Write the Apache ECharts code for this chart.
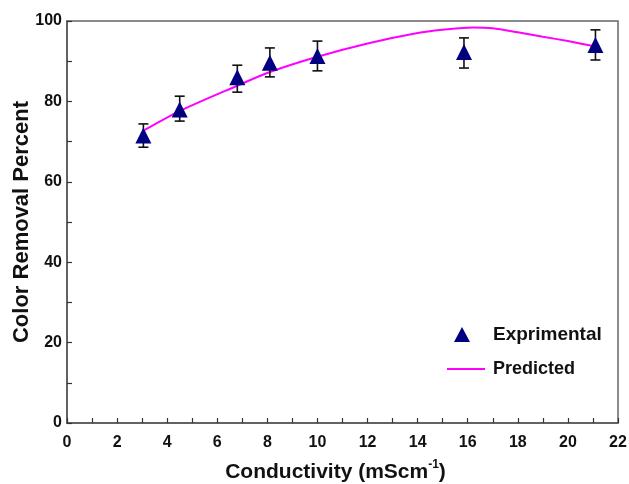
<!DOCTYPE html>
<html>
<head>
<meta charset="utf-8">
<script src="https://cdn.jsdelivr.net/npm/echarts@6/dist/echarts.min.js"></script>
<style>
  html, body { margin: 0; padding: 0; background: #fff; }
  #chart { width: 629px; height: 484px; }
</style>
</head>
<body>
<div id="chart"></div>
<script>
// measured points
const expX = [3.05, 4.5, 6.8, 8.1, 10, 15.85, 21.1];
const expY = [71.5, 78, 86, 89.6, 91.3, 92.3, 94];
const errLow = [68.6, 75.1, 82.3, 86.1, 87.6, 88.3, 90.3];
const errHigh = [74.4, 81.3, 89.0, 93.3, 95.0, 95.8, 97.8];

// model curve
const predX = [3.1, 4.5, 6.8, 8.1, 10, 12, 14, 15, 16.2, 17, 18, 19, 20, 21];
const predY = [72.9, 77.6, 83.9, 87.3, 91.1, 94.4, 97.0, 97.8, 98.4, 98.2, 97.2, 96.1, 95.0, 93.8];

const font = "'Liberation Sans', Arial, sans-serif";

let myChart = echarts.init(document.getElementById("chart"));
myChart.setOption({
  animation: false,
  grid: {
    left: 67,
    right: 11,
    top: 21,
    bottom: 61,
    outerBoundsMode: "none",
    show: true,
    borderColor: "#666",
    borderWidth: 1.5
  },
  legend: [
    {
      data: [{ name: "Exprimental", icon: "triangle" }],
      left: 449,
      top: 320,
      itemWidth: 16,
      itemHeight: 15,
      textStyle: { fontFamily: font, fontWeight: "bold", fontSize: 19, color: "#111", padding: [0, 0, 6, 18] }
    },
    {
      data: [{ name: "Predicted", icon: "rect" }],
      left: 442,
      top: 355,
      itemWidth: 38,
      itemHeight: 2,
      textStyle: { fontFamily: font, fontWeight: "bold", fontSize: 18, color: "#111", padding: [0, 0, 6, 3] }
    }
  ],
  xAxis: {
    type: "value",
    min: 0,
    max: 22,
    interval: 2,
    name: "Conductivity (mScm{sup|-1})",
    nameLocation: "middle",
    nameGap: 36,
    nameTextStyle: {
      fontFamily: font,
      fontWeight: "bold",
      fontSize: 21,
      color: "#111",
      padding: [0, 14, 0, 0],
      rich: {
        sup: { fontFamily: font, fontWeight: "bold", fontSize: 12, color: "#111", verticalAlign: "top", lineHeight: 26 }
      }
    },
    axisLine: { lineStyle: { color: "#555", width: 1.5 } },
    axisTick: { inside: true, length: 5, lineStyle: { color: "#333", width: 1.2 } },
    minorTick: { show: true, splitNumber: 2, length: 5, lineStyle: { color: "#333", width: 1.2 } },
    axisLabel: { fontFamily: font, fontWeight: "bold", fontSize: 16, color: "#111", margin: 12 },
    splitLine: { show: false }
  },
  yAxis: {
    type: "value",
    min: 0,
    max: 100,
    interval: 20,
    name: "Color Removal Percent",
    nameLocation: "middle",
    nameGap: 34,
    nameMoveOverlap: false,
    nameTextStyle: { fontFamily: font, fontWeight: "bold", fontSize: 22, color: "#111" },
    axisLine: { show: true, lineStyle: { color: "#555", width: 1.5 } },
    axisTick: { show: true, inside: true, length: 5, lineStyle: { color: "#333", width: 1.2 } },
    minorTick: { show: true, splitNumber: 2, length: 5, lineStyle: { color: "#333", width: 1.2 } },
    axisLabel: { fontFamily: font, fontWeight: "bold", fontSize: 16, color: "#111", margin: 5 },
    splitLine: { show: false }
  },
  series: [
    {
      name: "Predicted",
      type: "line",
      smooth: 0.3,
      symbol: "none",
      lineStyle: { color: "#ff00ff", width: 2 },
      itemStyle: { color: "#ff00ff" },
      data: predX.map((x, i) => [x, predY[i]]),
      z: 2
    },
    {
      name: "errorbars",
      type: "custom",
      data: expX.map((x, i) => [x, errLow[i], errHigh[i]]),
      renderItem: function (params, api) {
        const lo = api.coord([api.value(0), api.value(1)]);
        const hi = api.coord([api.value(0), api.value(2)]);
        const cap = 5;
        const style = { stroke: "#111", lineWidth: 1.6 };
        return {
          type: "group",
          children: [
            { type: "line", shape: { x1: lo[0], y1: lo[1], x2: hi[0], y2: hi[1] }, style: style },
            { type: "line", shape: { x1: lo[0] - cap, y1: lo[1], x2: lo[0] + cap, y2: lo[1] }, style: style },
            { type: "line", shape: { x1: hi[0] - cap, y1: hi[1], x2: hi[0] + cap, y2: hi[1] }, style: style }
          ]
        };
      },
      z: 3
    },
    {
      name: "Exprimental",
      type: "scatter",
      symbol: "triangle",
      symbolSize: [16, 16],
      itemStyle: { color: "#000080", opacity: 1 },
      data: expX.map((x, i) => [x, expY[i]]),
      z: 4
    }
  ]
});
</script>
</body>
</html>
